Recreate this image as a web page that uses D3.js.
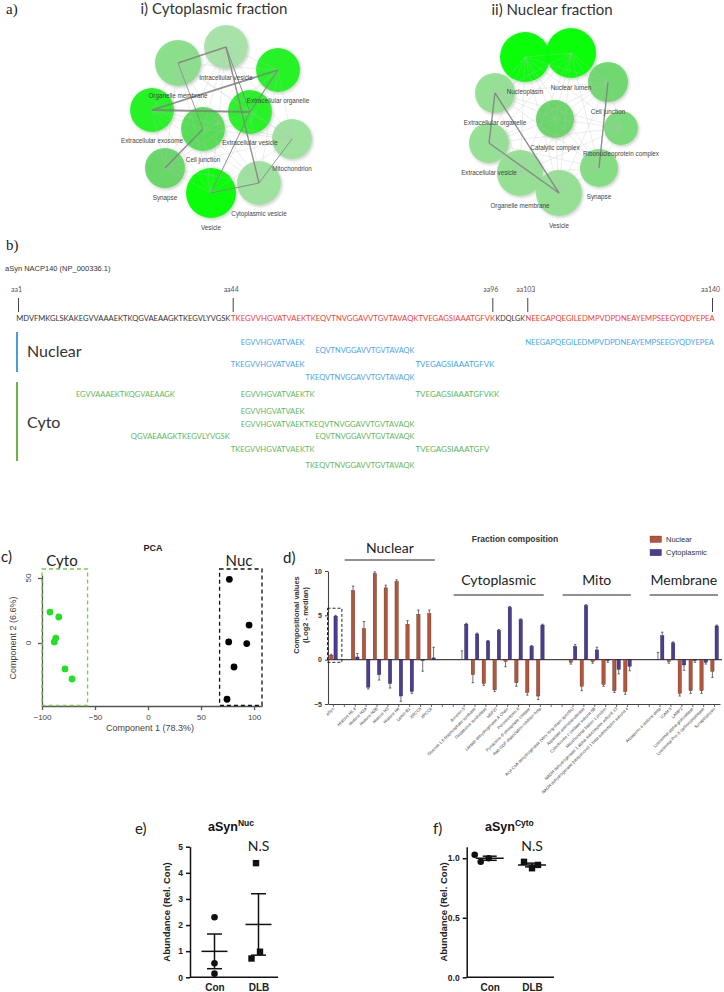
<!DOCTYPE html>
<html>
<head>
<meta charset="utf-8">
<script src="https://cdn.jsdelivr.net/npm/d3@7/dist/d3.min.js"></script>
<style>
html,body{margin:0;padding:0;background:#fff;}
svg{display:block;}
</style>
</head>
<body>
<svg id="fig" width="724" height="992" xmlns="http://www.w3.org/2000/svg"></svg>
<script>
// ======================= DATA =======================
// (a) GO cellular component networks (layout units relative to network centre)
const cytoTerms = ["Organelle membrane","Intracellular vesicle","Extracellular organelle","Extracellular exosome","Extracellular vesicle","Cell junction","Mitochondrion","Synapse","Vesicle","Cytoplasmic vesicle"];
const cytoLayoutX = [-44, 4, 56, -70, 28, -19, 70, -57, -11, 37];
const cytoLayoutY = [-57, -73, -50, -10, -8, 9, 19, 48, 73, 63];
const cytoGeneCount = [85, 77, 77, 77, 77, 77, 64, 64, 100, 77];
const cytoEnrichment = [0.3, 0.15, 0.85, 0.85, 0.85, 0.6, 0.2, 0.5, 1, 0.2];
const cytoStrongLinks = [[1,0,1.6],[1,9,1.4],[3,2,1.8],[3,4,1.8],[5,7,1.6],[4,8,1.0],[9,8,1.0],[2,4,1.2],[6,9,0.9],[0,5,0.8],[1,4,1.0]];

const nucTerms = ["Nucleoplasm","Nuclear lumen","Cell junction","Extracellular organelle","Catalytic complex","Ribonucleoprotein complex","Extracellular vesicle","Synapse","Organelle membrane","Vesicle"];
const nucLayoutX = [-30, 16, 53, -60, 0, 66, -66, 44, -35, 4];
const nucLayoutY = [-66, -70, -41, -30, -4, 5, 20, 45, 50, 70];
const nucGeneCount = [100, 100, 64, 64, 58, 46, 64, 58, 85, 85];
const nucEnrichment = [1, 1, 0.45, 0.25, 0.5, 0.4, 0.25, 0.35, 0.25, 0.25];
const nucStrongLinks = [[3,6,1.4],[6,9,1.4],[3,9,1.4],[2,7,1.4]];

// (b) alpha-synuclein sequence coverage
const aSynSeq = "MDVFMKGLSKAKEGVVAAAEKTKQGVAEAAGKTKEGVLYVGSKTKEGVVHGVATVAEKTKEQVTNVGGAVVTGVTAVAQKTVEGAGSIAAATGFVKKDQLGKNEEGAPQEGILEDMPVDPDNEAYEMPSEEGYQDYEPEA";
const seqSegStart = [1, 44, 97, 103];
const seqSegEnd = [43, 96, 102, 140];
const seqSegDetected = [false, true, false, true];
const seqMarkers = [1, 44, 96, 103, 140];
const nucPeptides = ["EGVVHGVATVAEK","NEEGAPQEGILEDMPVDPDNEAYEMPSEEGYQDYEPEA","EQVTNVGGAVVTGVTAVAQK","TKEGVVHGVATVAEK","TVEGAGSIAAATGFVK","TKEQVTNVGGAVVTGVTAVAQK"];
const nucPeptideRow = [0, 0, 1, 2, 2, 3];
const cytoPeptides = ["EGVVAAAEKTKQGVAEAAGK","EGVVHGVATVAEKTK","TVEGAGSIAAATGFVKK","EGVVHGVATVAEK","EGVVHGVATVAEKTKEQVTNVGGAVVTGVTAVAQK","QGVAEAAGKTKEGVLYVGSK","EQVTNVGGAVVTGVTAVAQK","TKEGVVHGVATVAEKTK","TVEGAGSIAAATGFV","TKEQVTNVGGAVVTGVTAVAQK"];
const cytoPeptideRow = [0, 0, 0, 1, 2, 3, 3, 4, 4, 5];

// (c) PCA
const pcaCytoX = [-92.5, -84.2, -87.0, -88.4, -78.3, -71.7];
const pcaCytoY = [23.8, 20.0, 3.8, 0.8, -20.0, -27.7];
const pcaNucX = [76.7, 95.3, 76.1, 93.1, 81.1, 74.5];
const pcaNucY = [49.0, 13.8, 0.8, -0.5, -18.5, -43.3];
const pcaXTicks = [-100, -50, 0, 50, 100];
const pcaYTicks = [0, 50];

// (d) Fraction composition
const aSynCat = ["aSyn"];
const aSynNuc = [0.5], aSynNucErr = [0.1], aSynCyto = [4.9], aSynCytoErr = [0.1];
const nuclearMarkers = ["Histone H1.4","Histone H2A","Histone H2B","Histone H3","Histone H4","Lamin B1","XRCC5","XRCC6"];
const nuclearMarkNuc = [7.8, 3.5, 9.7, 8.1, 8.8, 4.0, 5.1, 5.2];
const nuclearMarkNucErr = [0.5, 0.8, 0.2, 0.3, 0.2, 0.4, 0.5, 0.4];
const nuclearMarkCyto = [0.3, -3.1, -1.7, -2.7, -4.1, -3.6, -0.1, 0.2];
const nuclearMarkCytoErr = [0.4, 0.2, 0.6, 0.5, 0.6, 0.2, 1.2, 1.2];
const cytoMarkers = ["Annexin 5","Glucose 1,6-bisphosphate synthase","Glutathione synthetase","HSP27","Lactate dehydrogenase A Chain","Peroxiredoxin 6","Pyridoxine-5'-phosphate oxidase","Rab GDP dissociation inhibitor beta"];
const cytoMarkNuc = [0.05, -1.7, -2.7, -3.4, -0.2, -2.6, -3.7, -4.1];
const cytoMarkNucErr = [0.95, 0.9, 0.2, 0.2, 0.6, 0.4, 0.3, 0.4];
const cytoMarkCyto = [4.0, 2.9, 2.1, 3.3, 5.9, 4.5, 1.5, 3.9];
const cytoMarkCytoErr = [0.1, 0.1, 0.05, 0.1, 0.1, 0.1, 0.1, 0.1];
const mitoMarkers = ["Acyl-CoA dehydrogenase (Very long-chain specific)","Aspartate aminotransferase","Cytochrome c oxidase subunit 5B","Mitochondrial fission 1 protein","NADH dehydrogenase 1 alpha subcomplex subunit 13","NADH dehydrogenase [ubiquinone] 1 beta subcomplex subunit 4"];
const mitoMarkNuc = [-0.3, -3.0, -0.2, -2.8, -3.5, -3.6];
const mitoMarkNucErr = [0.2, 0.5, 0.2, 0.2, 0.2, 0.3];
const mitoMarkCyto = [1.5, 6.1, 1.1, -0.1, -1.1, -0.75];
const mitoMarkCytoErr = [0.2, 0.1, 0.3, 0.2, 0.5, 0.5];
const membraneMarkers = ["Aquaporin 4 isoform delta","ICAM 5","LAMP2","Lysosomal alpha-glucosidase","Lysosomal Pro-X carboxypeptidase","Synaptophysin"];
const membMarkNuc = [0.02, -0.2, -3.8, -3.5, -3.5, -1.3];
const membMarkNucErr = [0.8, 0.2, 0.3, 0.3, 0.3, 0.7];
const membMarkCyto = [2.7, 1.9, -0.6, -0.1, -0.3, 3.8];
const membMarkCytoErr = [0.4, 0.1, 0.6, 0.2, 0.2, 0.1];
const compYTicks = [-5, 0, 5, 10];
const fractionNames = ["Nuclear", "Cytoplasmic"];

// (e) aSyn nuclear abundance, (f) aSyn cytoplasmic abundance
const groupsEF = ["Con", "DLB"];
const nucAbundCon = [2.30, 0.54, 0.14];
const nucAbundDLB = [4.37, 0.98, 0.72];
const nucAbundTicks = [0, 1, 2, 3, 4, 5];
const cytoAbundCon = [1.03, 1.00, 0.97];
const cytoAbundDLB = [0.97, 0.916, 0.944];
const cytoAbundTicks = [0, 0.5, 1.0];

// ======================= DRAW =======================
const svg = d3.select("#fig");
const CAL = "Lato, 'Open Sans', 'Noto Sans', sans-serif";
const ARIAL = "'Liberation Sans', Arial, sans-serif";
const SERIF = "'Liberation Serif', 'Times New Roman', serif";
svg.append("rect").attr("width", 724).attr("height", 992).attr("fill", "#fff");

const defs = svg.append("defs");
const flt = defs.append("filter").attr("id", "shadow").attr("x", "-30%").attr("y", "-30%").attr("width", "160%").attr("height", "160%");
flt.append("feDropShadow").attr("dx", 1.2).attr("dy", 1.5).attr("stdDeviation", 1.6).attr("flood-color", "#000").attr("flood-opacity", 0.22);

function txt(g, s, x, y, o = {}) {
  const t = g.append("text").attr("x", x).attr("y", y)
    .attr("font-family", o.font || ARIAL).attr("font-size", o.size || 8)
    .attr("fill", o.fill || "#222").attr("text-anchor", o.anchor || "start")
    .attr("font-weight", o.weight || "normal").text(s);
  if (o.rotate !== undefined) t.attr("transform", `rotate(${o.rotate},${x},${y})`);
  return t;
}

// ---------------- Panel a ----------------
txt(svg, "a)", 6, 14, {font: SERIF, size: 15});
txt(svg, "i) Cytoplasmic fraction", 214, 14, {font: CAL, size: 15, anchor: "middle", fill: "#333"});
txt(svg, "ii) Nuclear fraction", 552, 15, {font: CAL, size: 15, anchor: "middle", fill: "#333"});

function drawNetwork(terms, lx, ly, genes, enr, links, cx, cy) {
  const xs = d3.scaleLinear().domain([-100, 100]).range([cx - 100, cx + 100]);
  const ys = d3.scaleLinear().domain([-100, 100]).range([cy - 100, cy + 100]);
  const rs = d3.scaleSqrt().domain([0, 100]).range([0, 25]);
  const col = d3.scaleLinear().domain([0, 0.5, 1]).range(["#c2e9c2", "#62d662", "#00ff00"]);
  const g = svg.append("g");
  const nodes = terms.map((t, i) => ({t, x: xs(lx[i]), y: ys(ly[i]), r: rs(genes[i]), c: col(enr[i])}));
  g.selectAll("circle").data(nodes).join("circle")
    .attr("cx", d => d.x).attr("cy", d => d.y).attr("r", d => d.r)
    .attr("fill", d => d.c).attr("fill-opacity", 0.95).attr("filter", "url(#shadow)");
  const pairs = d3.cross(d3.range(nodes.length), d3.range(nodes.length)).filter(([a, b]) => a < b);
  g.selectAll("line.faint").data(pairs).join("line").attr("class", "faint")
    .attr("x1", d => nodes[d[0]].x).attr("y1", d => nodes[d[0]].y)
    .attr("x2", d => nodes[d[1]].x).attr("y2", d => nodes[d[1]].y)
    .attr("stroke", "#bdbdbd").attr("stroke-width", 0.5).attr("opacity", 0.55);
  g.selectAll("line.strong").data(links).join("line").attr("class", "strong")
    .attr("x1", d => nodes[d[0]].x).attr("y1", d => nodes[d[0]].y)
    .attr("x2", d => nodes[d[1]].x).attr("y2", d => nodes[d[1]].y)
    .attr("stroke", "#808080").attr("stroke-width", d => d[2]).attr("opacity", 0.85);
  g.selectAll("text").data(nodes).join("text")
    .attr("x", d => d.x).attr("y", d => d.y + d.r + 11.5).attr("text-anchor", "middle")
    .attr("font-family", ARIAL).attr("font-size", 6.3).attr("fill", "#444").text(d => d.t);
}
drawNetwork(cytoTerms, cytoLayoutX, cytoLayoutY, cytoGeneCount, cytoEnrichment, cytoStrongLinks, 222, 120);
drawNetwork(nucTerms, nucLayoutX, nucLayoutY, nucGeneCount, nucEnrichment, nucStrongLinks, 555, 123);

// ---------------- Panel b ----------------
txt(svg, "b)", 6, 250, {font: SERIF, size: 15});
txt(svg, "aSyn NACP140 (NP_000336.1)", 5, 271, {size: 7.5, fill: "#333"});
const seqX = d3.scaleLinear().domain([0, aSynSeq.length]).range([16, 715]);
const seqBase = 321;
const gb = svg.append("g");
seqSegStart.forEach((s, i) => {
  const e = seqSegEnd[i];
  gb.append("text").attr("x", seqX(s - 1) + 0.3).attr("y", seqBase)
    .attr("font-family", CAL).attr("font-size", 7.2)
    .attr("fill", seqSegDetected[i] ? "#ef4136" : "#333")
    .attr("textLength", seqX(e) - seqX(s - 1) - 0.6).attr("lengthAdjust", "spacingAndGlyphs")
    .text(aSynSeq.slice(s - 1, e));
});
seqMarkers.forEach(p => {
  const x = seqX(p - 0.5);
  gb.append("line").attr("x1", x).attr("x2", x).attr("y1", 298).attr("y2", 312).attr("stroke", "#444").attr("stroke-width", 1);
  txt(gb, "aa" + p, Math.min(Math.max(x - 2, 11), 712), 292, {size: 7, anchor: "middle", fill: "#555", font: CAL});
});
const nucRowY = [345, 353, 367, 380];
const cytoRowY = [397, 414, 427, 439, 452, 468];
function drawPeps(peps, rows, rowY, color) {
  peps.forEach((p, i) => {
    const s = aSynSeq.indexOf(p) + 1;
    gb.append("text").attr("x", seqX(s - 1)).attr("y", rowY[rows[i]])
      .attr("font-family", CAL).attr("font-size", 7.4).attr("fill", color)
      .attr("textLength", seqX(s - 1 + p.length) - seqX(s - 1) - 1).attr("lengthAdjust", "spacingAndGlyphs")
      .text(p);
  });
}
drawPeps(nucPeptides, nucPeptideRow, nucRowY, "#49a6e9");
drawPeps(cytoPeptides, cytoPeptideRow, cytoRowY, "#5cb85c");
gb.append("line").attr("x1", 17).attr("x2", 17).attr("y1", 332).attr("y2", 372).attr("stroke", "#4a9ee0").attr("stroke-width", 2);
gb.append("line").attr("x1", 17).attr("x2", 17).attr("y1", 382).attr("y2", 461).attr("stroke", "#6ab44a").attr("stroke-width", 2);
txt(gb, "Nuclear", 27, 357, {font: CAL, size: 16, fill: "#333"});
txt(gb, "Cyto", 27, 428, {font: CAL, size: 16, fill: "#333"});

// ---------------- Panel c ----------------
const gc = svg.append("g");
txt(gc, "c)", 1, 562, {font: CAL, size: 15});
txt(gc, "PCA", 153, 551, {weight: "bold", size: 9, anchor: "middle"});
txt(gc, "Cyto", 62, 566, {font: CAL, size: 15, anchor: "middle", fill: "#222"});
txt(gc, "Nuc", 239, 566, {font: CAL, size: 15, anchor: "middle", fill: "#222"});
const pcx = d3.scaleLinear().domain([-100, 107.5]).range([42, 262]);
const pcy = d3.scaleLinear().domain([-48.5, 52.3]).range([706, 575]);
const xAxC = gc.append("g").attr("transform", "translate(0,706)")
  .call(d3.axisBottom(pcx).tickValues(pcaXTicks).tickSize(4).tickSizeOuter(0).tickFormat(d3.format("d")));
const yAxC = gc.append("g").attr("transform", "translate(42,0)")
  .call(d3.axisLeft(pcy).tickValues(pcaYTicks).tickSize(4).tickSizeOuter(0).tickFormat(() => ""));
[xAxC, yAxC].forEach(a => {
  a.selectAll("path,line").attr("stroke", "#555").attr("stroke-width", 1.3);
  a.selectAll("text").attr("font-family", ARIAL).attr("font-size", 8).attr("fill", "#444");
});
xAxC.selectAll("text").attr("dy", "0.9em");
pcaYTicks.forEach(v => txt(gc, String(v), 31, pcy(v), {size: 8, anchor: "middle", fill: "#444", rotate: -90}));
txt(gc, "Component 2 (6.6%)", 16, 638, {size: 9, anchor: "middle", fill: "#444", rotate: -90});
txt(gc, "Component 1 (78.3%)", 150, 731, {size: 9, anchor: "middle", fill: "#444"});
gc.selectAll("circle.cy").data(pcaCytoX).join("circle").attr("class", "cy")
  .attr("cx", d => pcx(d)).attr("cy", (d, i) => pcy(pcaCytoY[i])).attr("r", 3.4).attr("fill", "#22e022");
gc.selectAll("circle.nu").data(pcaNucX).join("circle").attr("class", "nu")
  .attr("cx", d => pcx(d)).attr("cy", (d, i) => pcy(pcaNucY[i])).attr("r", 3.4).attr("fill", "#000");
gc.append("rect").attr("x", pcx(-100)).attr("y", 569).attr("width", pcx(-57) - pcx(-100)).attr("height", 136.5)
  .attr("fill", "none").attr("stroke", "#7ccc4c").attr("stroke-width", 1.3).attr("stroke-dasharray", "4,3");
gc.append("rect").attr("x", pcx(67.5)).attr("y", 569).attr("width", pcx(107.5) - pcx(67.5)).attr("height", 136.5)
  .attr("fill", "none").attr("stroke", "#111").attr("stroke-width", 1.3).attr("stroke-dasharray", "4,3");

// ---------------- Panel d ----------------
const gd = svg.append("g");
txt(gd, "d)", 283, 563, {font: CAL, size: 15});
txt(gd, "Fraction composition", 515, 542, {weight: "bold", size: 8.5, anchor: "middle", fill: "#333"});
const groupsD = [
  {name: null, cats: aSynCat, nuc: aSynNuc, nucErr: aSynNucErr, cyto: aSynCyto, cytoErr: aSynCytoErr, gap: 1},
  {name: "Nuclear", cats: nuclearMarkers, nuc: nuclearMarkNuc, nucErr: nuclearMarkNucErr, cyto: nuclearMarkCyto, cytoErr: nuclearMarkCytoErr, gap: 2},
  {name: "Cytoplasmic", cats: cytoMarkers, nuc: cytoMarkNuc, nucErr: cytoMarkNucErr, cyto: cytoMarkCyto, cytoErr: cytoMarkCytoErr, gap: 2},
  {name: "Mito", cats: mitoMarkers, nuc: mitoMarkNuc, nucErr: mitoMarkNucErr, cyto: mitoMarkCyto, cytoErr: mitoMarkCytoErr, gap: 2},
  {name: "Membrane", cats: membraneMarkers, nuc: membMarkNuc, nucErr: membMarkNucErr, cyto: membMarkCyto, cytoErr: membMarkCytoErr, gap: 0}
];
const slots = [];
const rows = [];
groupsD.forEach((g, gi) => {
  g.cats.forEach((c, i) => {
    slots.push(c);
    rows.push({cat: c, group: gi, nuc: g.nuc[i], nucErr: g.nucErr[i], cyto: g.cyto[i], cytoErr: g.cytoErr[i]});
  });
  for (let k = 0; k < g.gap; k++) slots.push("__gap" + gi + "_" + k);
});
const bx = d3.scaleBand().domain(slots).range([328, 720]).padding(0);
const by = d3.scaleLinear().domain([-5, 10]).range([704, 571]);
gd.append("line").attr("x1", 328).attr("x2", 722).attr("y1", by(0)).attr("y2", by(0)).attr("stroke", "#444").attr("stroke-width", 1.1);
const xAxD = gd.append("g").attr("transform", `translate(0,${by(-5)})`)
  .call(d3.axisBottom(bx).tickSize(3).tickSizeOuter(0).tickFormat(() => ""));
xAxD.select("path").attr("stroke", "#444").attr("stroke-width", 1.1);
xAxD.selectAll("line").attr("stroke", "#444").attr("stroke-width", 0.8);
const yAxD = gd.append("g").attr("transform", "translate(328,0)")
  .call(d3.axisLeft(by).tickValues(compYTicks).tickSize(3).tickSizeOuter(0));
yAxD.select("path").attr("stroke", "#444").attr("stroke-width", 1.1);
yAxD.selectAll("line").attr("stroke", "#444");
yAxD.selectAll("text").attr("font-family", ARIAL).attr("font-size", 7).attr("font-weight", "bold").attr("fill", "#333");
txt(gd, "Compositional values", 299, 615, {weight: "bold", size: 7.5, anchor: "middle", rotate: -90, fill: "#333"});
txt(gd, "(Log2 - median)", 308, 615, {weight: "bold", size: 7.5, anchor: "middle", rotate: -90, fill: "#333"});
rows.forEach(r => {
  const x = bx(r.cat) + bx.bandwidth() / 2 + 1;
  txt(gd, r.cat, x, 709, {size: 4.2, anchor: "end", fill: "#333", rotate: -45});
});
const bw = 3.3;
const nucCol = "#b2573d", cytCol = "#4b3d8f";
rows.forEach(r => {
  const c = bx(r.cat) + bx.bandwidth() / 2;
  [[r.nuc, r.nucErr, c - 0.5 - bw, nucCol, "#5a2816"], [r.cyto, r.cytoErr, c + 0.5, cytCol, "#20184f"]].forEach(([v, e, x0, fill, st]) => {
    gd.append("rect").attr("x", x0).attr("width", bw)
      .attr("y", Math.min(by(v), by(0))).attr("height", Math.abs(by(v) - by(0)))
      .attr("fill", fill).attr("stroke", st).attr("stroke-width", 0.4);
    const sgn = v >= 0 ? 1 : -1;
    const xe = x0 + bw / 2;
    gd.append("line").attr("x1", xe).attr("x2", xe).attr("y1", by(v)).attr("y2", by(v + sgn * e)).attr("stroke", "#333").attr("stroke-width", 0.7);
    gd.append("line").attr("x1", xe - 1.2).attr("x2", xe + 1.2).attr("y1", by(v + sgn * e)).attr("y2", by(v + sgn * e)).attr("stroke", "#333").attr("stroke-width", 0.7);
  });
});
gd.append("rect").attr("x", bx("aSyn") - 0.5).attr("y", by(5.8)).attr("width", bx.bandwidth() + 3.5).attr("height", by(-0.3) - by(5.8))
  .attr("fill", "none").attr("stroke", "#222").attr("stroke-width", 1).attr("stroke-dasharray", "3,2");
groupsD.forEach((g, gi) => {
  if (!g.name) return;
  const x1 = bx(g.cats[0]) - 5, x2 = bx(g.cats[g.cats.length - 1]) + bx.bandwidth() - 2;
  const ly = gi === 1 ? 553 : 585, uy = gi === 1 ? 560 : 595;
  txt(gd, g.name, (x1 + x2) / 2, ly, {font: CAL, size: 14, anchor: "middle", fill: "#222"});
  gd.append("line").attr("x1", x1).attr("x2", x2).attr("y1", uy).attr("y2", uy).attr("stroke", "#222").attr("stroke-width", 1);
});
[nucCol, cytCol].forEach((c, i) => {
  gd.append("rect").attr("x", 650).attr("y", 536 + i * 13.3).attr("width", 11.5).attr("height", 6.5).attr("fill", c).attr("stroke", "#333").attr("stroke-width", 0.3);
  txt(gd, fractionNames[i], 666, 542 + i * 13.3, {size: 7.5, fill: "#333"});
});

// ---------------- Panels e & f ----------------
function dotPlot(cfg) {
  const g = svg.append("g");
  const y = d3.scaleLinear().domain(cfg.domain).range([977.3, cfg.top]);
  const x = d3.scalePoint().domain(groupsEF).range([cfg.x0 + cfg.pad, cfg.x1 - cfg.pad2]);
  const ax = g.append("g").attr("transform", `translate(${cfg.x0},0)`)
    .call(d3.axisLeft(y).tickValues(cfg.ticks).tickSize(4).tickSizeOuter(0).tickFormat(cfg.fmt));
  const bxAx = g.append("g").attr("transform", "translate(0,977.3)")
    .call(d3.axisBottom(x).tickSize(0).tickSizeOuter(0));
  bxAx.select("path").attr("d", `M${cfg.x0},0H${cfg.x1}`);
  [ax, bxAx].forEach(a => {
    a.selectAll("path,line").attr("stroke", "#111").attr("stroke-width", 1.5);
    a.selectAll("text").attr("font-family", ARIAL).attr("font-weight", "bold").attr("fill", "#222");
  });
  ax.selectAll("text").attr("font-size", 8.5);
  bxAx.selectAll("text").attr("font-size", 10).attr("dy", "1.05em");
  txt(g, "Abundance (Rel. Con)", cfg.x0 - 20, 912, {weight: "bold", size: 9.5, anchor: "middle", rotate: -90});
  [cfg.con, cfg.dlb].forEach((vals, gi) => {
    const cx = x(groupsEF[gi]);
    const m = d3.mean(vals);
    const sem = d3.deviation(vals) / Math.sqrt(vals.length);
    const lw = cfg.meanW / 2, cw = cfg.capW / 2;
    g.append("line").attr("x1", cx).attr("x2", cx).attr("y1", y(m - sem)).attr("y2", y(m + sem)).attr("stroke", "#111").attr("stroke-width", 1.5);
    [m - sem, m + sem].forEach(v => g.append("line").attr("x1", cx - cw).attr("x2", cx + cw).attr("y1", y(v)).attr("y2", y(v)).attr("stroke", "#111").attr("stroke-width", 1.5));
    g.append("line").attr("x1", cx - lw).attr("x2", cx + lw).attr("y1", y(m)).attr("y2", y(m)).attr("stroke", "#111").attr("stroke-width", 1.5);
    vals.forEach((v, i) => {
      const px = cx + cfg.jitter[gi][i];
      if (gi === 0) g.append("circle").attr("cx", px).attr("cy", y(v)).attr("r", 3.3).attr("fill", "#111");
      else g.append("rect").attr("x", px - 3.2).attr("y", y(v) - 3.2).attr("width", 6.4).attr("height", 6.4).attr("fill", "#111");
    });
  });
  txt(g, "N.S", x("DLB"), 851, {font: CAL, size: 14, anchor: "middle", fill: "#222"});
  const t = g.append("text").attr("x", cfg.titleX).attr("y", 831).attr("font-family", ARIAL).attr("font-weight", "bold").attr("font-size", 12.5).attr("fill", "#111");
  t.append("tspan").text("aSyn");
  t.append("tspan").attr("font-size", 8.5).attr("dy", -5).text(cfg.sup);
  txt(g, cfg.label, cfg.labelX, 834, {font: CAL, size: 15});
}
dotPlot({domain: [0, 5], top: 846.7, ticks: nucAbundTicks, fmt: d3.format("d"), x0: 190, x1: 278, pad: 24.5, pad2: 19.5,
  con: nucAbundCon, dlb: nucAbundDLB, jitter: [[0, 0, 0], [-2.5, 1.5, -7]], meanW: 26, capW: 15,
  sup: "Nuc", titleX: 208, label: "e)", labelX: 135});
dotPlot({domain: [0, 1.097], top: 846.7, ticks: cytoAbundTicks, fmt: d3.format(".1f"), x0: 466.7, x1: 554, pad: 23, pad2: 22,
  con: cytoAbundCon, dlb: cytoAbundDLB, jitter: [[-15, -1, -9], [-8, 0, 6]], meanW: 28, capW: 14,
  sup: "Cyto", titleX: 485, label: "f)", labelX: 433});
</script>
</body>
</html>
